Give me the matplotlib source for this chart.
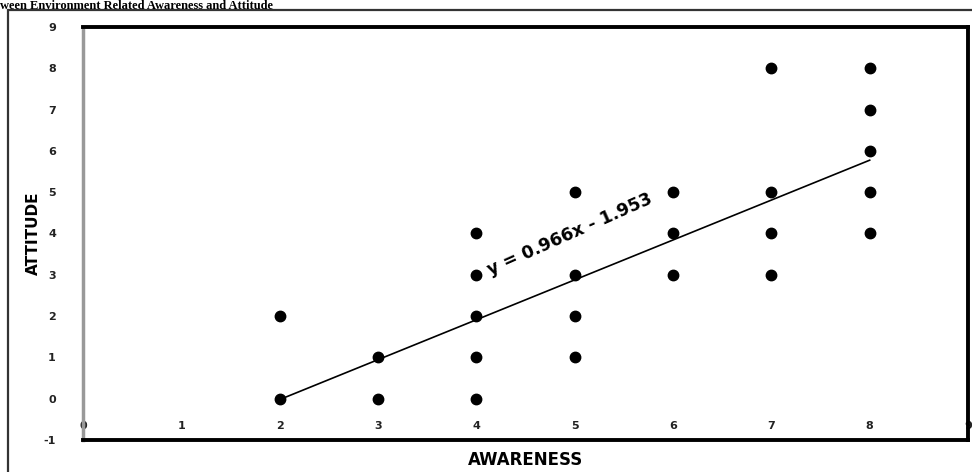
import matplotlib.pyplot as plt
from matplotlib.patches import Rectangle

plt.rcParams['axes.unicode_minus'] = False

# awareness (x) vs attitude (y) scores
awareness = [2, 2, 3, 3, 4, 4, 4, 4, 4, 5, 5, 5, 5, 6, 6, 6, 7, 7, 7, 7, 8, 8, 8, 8, 8]
attitude = [0, 2, 0, 1, 0, 1, 2, 3, 4, 1, 2, 3, 5, 3, 4, 5, 3, 4, 5, 8, 4, 5, 6, 7, 8]

# linear trendline reported on chart
slope = 0.966
intercept = -1.953
trend_x = [2, 8]

xticks = list(range(0, 10))
yticks = list(range(-1, 10))

fig = plt.figure(figsize=(9.72, 4.72), dpi=100)

# outer frame of the figure in the source document
fig.patches.append(Rectangle((0.008, -0.1), 1.1, 1.079, transform=fig.transFigure,
                             fill=False, edgecolor='#333333', linewidth=1.6))
fig.text(0.0, 0.9995, 'ween Environment Related Awareness and Attitude',
         ha='left', va='top', fontsize=9, fontweight='bold', family='Liberation Serif')

ax = fig.add_axes([0.0854, 0.0678, 0.9105, 0.875])
ax.plot(awareness, attitude, 'o', color='black', markersize=7.5)
ax.plot(trend_x, [slope * x + intercept for x in trend_x], color='black', linewidth=1.2)
ax.text(4.95, 3.97, 'y = 0.966x - 1.953', rotation=24, ha='center', va='center',
        fontsize=12.5, fontweight='bold')

ax.set_xlim(0, 9)
ax.set_ylim(-1, 9)
ax.set_xticks(xticks)
ax.set_yticks(yticks)
ax.tick_params(axis='x', length=0, pad=-14, labelsize=8)
ax.tick_params(axis='y', direction='inout', length=5, width=1.2, color='white',
               pad=17, labelsize=8)
for lab in ax.get_xticklabels() + ax.get_yticklabels():
    lab.set_fontweight('bold')
    lab.set_color('#222222')

for side in ['top', 'right', 'bottom']:
    ax.spines[side].set_linewidth(2.8)
    ax.spines[side].set_color('black')
ax.spines['left'].set_linewidth(2.5)
ax.spines['left'].set_color('#999999')

ax.set_xlabel('AWARENESS', fontsize=12, fontweight='bold', labelpad=8)
ax.set_ylabel('ATTITUDE', fontsize=11, fontweight='bold', labelpad=2,
              family='Liberation Sans Narrow')

fig.savefig('out.png', dpi=100)
